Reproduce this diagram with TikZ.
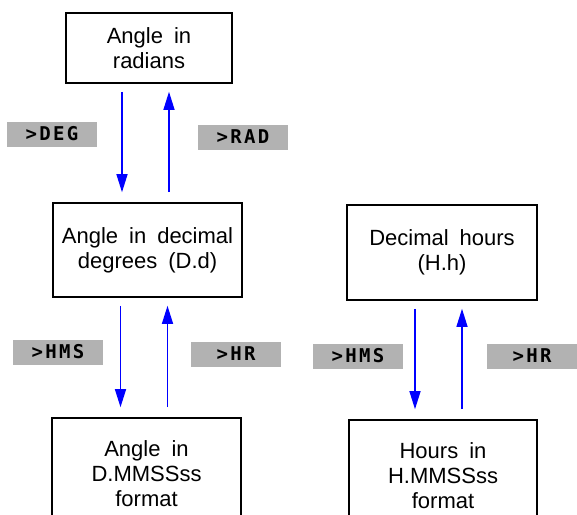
\documentclass[tikz,border=0pt]{standalone}
\usepackage{fontspec}
\setmainfont{Liberation Sans}
\newfontfamily\calcfont[LetterSpace=12]{DejaVu Sans Mono}
\usepackage{xcolor}
\usetikzlibrary{arrows.meta}

\begin{document}
\begin{tikzpicture}[x=1pt, y=-1pt,
  font=\fontsize{22}{25}\selectfont,
  >={Triangle[length=18pt,width=11pt]},
  conv/.style={draw, line width=1.6pt, align=center, inner sep=3pt, fill=white,
               execute at begin node={\spaceskip=0.5em\relax}},
  key/.style={fill=black!30, minimum width=90pt, minimum height=25pt, inner sep=0pt,
              font=\calcfont\bfseries\fontsize{19}{20}\selectfont},
  arr/.style={->, blue, line width=1.3pt}]
  \useasboundingbox (0,0) rectangle (577,514);
  \node[conv, minimum width=166pt, minimum height=70pt]  (rad) at (149,48)    {Angle in\\radians};
  \node[conv, minimum width=189pt, minimum height=94pt]  (deg) at (147.5,250) {Angle in decimal\\degrees (D.d)};
  \node[conv, minimum width=189pt, minimum height=112pt] (dms) at (146.5,474) {Angle in\\D.MMSSss\\format};
  \node[conv, minimum width=190pt, minimum height=95pt]  (hrs) at (442,252.5) {Decimal hours\\(H.h)};
  \node[conv, minimum width=188pt, minimum height=112pt] (hms) at (443,476)   {Hours in\\H.MMSSss\\format};
  \node[key] (kdeg)  at (52,134)  {>DEG};
  \node[key] (krad)  at (243,137) {>RAD};
  \node[key] (khms)  at (58,352)  {>HMS};
  \node[key] (khr)   at (236,354) {>HR};
  \node[key] (khms2) at (358,356) {>HMS};
  \node[key] (khr2)  at (532,356) {>HR};
  \foreach \a/\b in {rad/deg, deg/dms, hrs/hms} {
    \draw[arr, shorten <=8pt, shorten >=10pt] ([xshift=-27pt]\a.south) -- ([xshift=-27pt]\a.south |- \b.north);
    \draw[arr, shorten <=10pt, shorten >=8pt] ([xshift=20pt]\a.south |- \b.north) -- ([xshift=20pt]\a.south);
  }
\end{tikzpicture}
\end{document}
